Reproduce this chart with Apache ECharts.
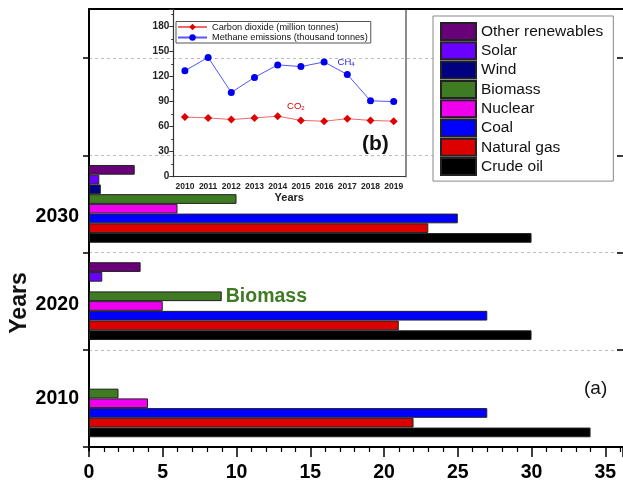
<!DOCTYPE html>
<html>
<head>
<meta charset="utf-8">
<script src="https://cdn.jsdelivr.net/npm/echarts@6/dist/echarts.min.js"></script>
<style>html,body{margin:0;padding:0;background:#fff;}#c{width:623px;height:483px;}</style>
</head>
<body>
<div id="c"></div>
<script>
// ---- main chart (a) data ----
var years = ['2010', '2020', '2030', ''];
var crudeOil = [34, 30, 30, '-'];
var naturalGas = [22, 21, 23, '-'];
var coal = [27, 27, 25, '-'];
var nuclear = [4, 5, 6, '-'];
var biomass = [2, 9, 10, '-'];
var wind = ['-', '-', 0.8, '-'];
var solar = ['-', 0.9, 0.7, '-'];
var otherRenewables = ['-', 3.5, 3.1, '-'];
var xTicks = [0, 5, 10, 15, 20, 25, 30, 35];

// ---- inset chart (b) data ----
var insetYears = ['2010', '2011', '2012', '2013', '2014', '2015', '2016', '2017', '2018', '2019'];
var co2 = [71.5, 70.5, 68.5, 70.5, 72.5, 67.5, 66.5, 69.5, 67.5, 66.5];
var ch4 = [127, 143, 101, 119, 134, 132, 137.5, 122.5, 91, 90];
var insetYTicks = [0, 30, 60, 90, 120, 150, 180];

var FONT = 'Liberation Sans, Arial, sans-serif';
// listed top-to-bottom within each year group
var names = ['Other renewables', 'Solar', 'Wind', 'Biomass', 'Nuclear', 'Coal', 'Natural gas', 'Crude oil'];
var colors = ['#680078', '#6a00ff', '#000080', '#3e7b22', '#ee00ee', '#0000ff', '#dd0000', '#000000'];
var values = [otherRenewables, solar, wind, biomass, nuclear, coal, naturalGas, crudeOil];

var barSeries = names.map(function (n, i) {
  var data = values[i].slice();
  if (n === 'Biomass') {
    data = data.map(function (v, k) {
      if (years[k] === '2020') {
        return { value: v, label: { show: true, position: 'right', distance: 4, formatter: 'Biomass',
          color: '#3e7b22', fontSize: 19.5, fontWeight: 'bold', fontFamily: FONT } };
      }
      return v;
    });
  }
  return {
    name: n, type: 'bar', xAxisIndex: 0, yAxisIndex: 0,
    barGap: '0%', barCategoryGap: '20%',
    itemStyle: { color: colors[i], borderColor: '#222', borderWidth: 1 },
    data: data, z: 2
  };
});

var chart = echarts.init(document.getElementById('c'), null, { renderer: 'canvas' });
var option = {
  animation: false,
  textStyle: { fontFamily: FONT },
  grid: [
    { left: 89, right: 0, top: 58, bottom: 32.5 },
    { left: 89, right: 0, top: 9, bottom: 32.5 },
    { left: 173.3, right: 217.7, top: 9, bottom: 306.3 }
  ],
  xAxis: [
    { type: 'value', gridIndex: 0, min: 0, max: 36.2, interval: 5,
      axisLine: { show: true, lineStyle: { color: '#000', width: 2 } },
      axisTick: { show: true, length: 10, lineStyle: { color: '#000', width: 1.5 } },
      minorTick: { show: true, splitNumber: 5, length: 5, lineStyle: { color: '#000', width: 1.2 } },
      splitLine: { show: false },
      axisLabel: { show: true, fontSize: 19.5, fontWeight: 'bold', color: '#000', margin: 16, showMaxLabel: false,
        formatter: function (v) { return xTicks.indexOf(v) >= 0 ? String(v) : ''; } } },
    { type: 'value', gridIndex: 1, position: 'top', min: 0, max: 1,
      axisLine: { show: true, onZero: false, lineStyle: { color: '#000', width: 2 } },
      axisTick: { show: false }, axisLabel: { show: false }, splitLine: { show: false } },
    { type: 'category', gridIndex: 2, data: insetYears, boundaryGap: true, z: 6,
      axisLine: { show: true, lineStyle: { color: '#333', width: 1.2 } },
      axisTick: { show: false },
      axisLabel: { interval: 0, fontSize: 8.5, fontWeight: 'bold', color: '#222', margin: 5 },
      name: 'Years', nameLocation: 'middle', nameGap: 16,
      nameTextStyle: { fontSize: 11, fontWeight: 'bold', color: '#222' } }
  ],
  yAxis: [
    { type: 'category', gridIndex: 0, data: years,
      axisLine: { show: true, lineStyle: { color: '#000', width: 2 } },
      axisTick: { show: true, length: 6, lineStyle: { color: '#000', width: 1.5 } },
      splitLine: { show: true, lineStyle: { color: '#bbb', type: [3, 3], width: 1 } },
      axisLabel: { margin: 10, color: '#000',
        formatter: function (v) { return v ? '{y' + v + '|' + v + '}' : ''; },
        rich: {
          y2030: { fontSize: 19.5, fontWeight: 'bold', color: '#000', padding: [26, 0, 0, 0] },
          y2020: { fontSize: 19.5, fontWeight: 'bold', color: '#000', padding: [6, 0, 0, 0] },
          y2010: { fontSize: 19.5, fontWeight: 'bold', color: '#000' }
        } } },
    { type: 'category', gridIndex: 0, data: years,
      axisLine: { show: false },
      axisTick: { show: true, inside: true, length: 6, lineStyle: { color: '#000', width: 1.5 } },
      axisLabel: { show: false }, splitLine: { show: false } },
    { type: 'value', gridIndex: 1, min: 0, max: 1,
      axisLine: { show: true, onZero: false, lineStyle: { color: '#000', width: 2 } },
      axisTick: { show: false }, axisLabel: { show: false }, splitLine: { show: false } },
    { type: 'value', gridIndex: 2, min: 0, max: 201, interval: 30, z: 6,
      axisLine: { show: true, lineStyle: { color: '#333', width: 1.2 } },
      axisTick: { show: true, length: 4, lineStyle: { color: '#333' } },
      minorTick: { show: true, splitNumber: 2, length: 2, lineStyle: { color: '#333' } },
      splitLine: { show: false },
      axisLabel: { fontSize: 10, fontWeight: 'bold', color: '#222', margin: 4, showMaxLabel: false,
        formatter: function (v) { return insetYTicks.indexOf(v) >= 0 ? String(v) : ''; } } },
    { type: 'value', gridIndex: 2, position: 'right', min: 0, max: 201,
      axisLine: { show: true, lineStyle: { color: '#666', width: 1.5 } },
      axisTick: { show: false }, axisLabel: { show: false }, splitLine: { show: false } }
  ],
  legend: [
    { data: names.slice(), orient: 'vertical', left: 433, top: 16,
      padding: [6, 10, 5, 7], itemWidth: 35, itemHeight: 17, itemGap: 0.3, icon: 'rect',
      backgroundColor: '#fff', borderColor: '#888', borderWidth: 1,
      textStyle: { fontSize: 15.5, color: '#111', fontFamily: FONT } },
    { data: ['Carbon dioxide (million tonnes)', 'Methane emissions (thousand tonnes)'],
      orient: 'vertical', left: 176, top: 21.5, padding: [1, 3, 1, 1],
      itemWidth: 29, itemHeight: 8, itemGap: 1.5,
      borderColor: '#555', borderWidth: 1, backgroundColor: '#fff',
      textStyle: { fontSize: 9.2, color: '#111', fontFamily: FONT } }
  ],
  series: barSeries.concat([
    { name: 'Carbon dioxide (million tonnes)', type: 'line', xAxisIndex: 2, yAxisIndex: 3,
      symbol: 'diamond', symbolSize: 8,
      itemStyle: { color: '#e00000' }, lineStyle: { color: '#f06868', width: 1 },
      data: co2.map(function (v, k) {
        if (insetYears[k] === '2015') {
          return { value: v, label: { show: true, position: 'top', distance: 5, offset: [-5, 0],
            formatter: '{a|CO}{s|2}', rich: { a: { fontSize: 9.5, color: '#e00000' }, s: { fontSize: 6, color: '#e00000', padding: [5, 0, 0, 0] } } } };
        }
        return v;
      }), z: 5 },
    { name: 'Methane emissions (thousand tonnes)', type: 'line', xAxisIndex: 2, yAxisIndex: 3,
      symbol: 'circle', symbolSize: 7,
      itemStyle: { color: '#0000ee' }, lineStyle: { color: '#5555ff', width: 1 },
      data: ch4.map(function (v, k) {
        if (insetYears[k] === '2016') {
          return { value: v, label: { show: true, position: 'right', distance: 10,
            formatter: '{a|CH}{s|4}', rich: { a: { fontSize: 9.5, color: '#2222ee' }, s: { fontSize: 6, color: '#2222ee', padding: [5, 0, 0, 0] } } } };
        }
        return v;
      }), z: 5 }
  ]),
  graphic: [
    { type: 'text', left: 584, top: 379, style: { text: '(a)', fontSize: 19, fontFamily: FONT, fill: '#111' } },
    { type: 'text', left: 362, top: 134, style: { text: '(b)', fontSize: 21, fontWeight: 'bold', fontFamily: FONT, fill: '#111' } },
    { type: 'text', x: 20, y: 303, rotation: Math.PI / 2, originX: 0, originY: 0,
      style: { text: 'Years', fontSize: 23, fontWeight: 'bold', fontFamily: FONT, fill: '#111', align: 'center', verticalAlign: 'middle' } }
  ]
};
chart.setOption(option);
</script>
</body>
</html>
